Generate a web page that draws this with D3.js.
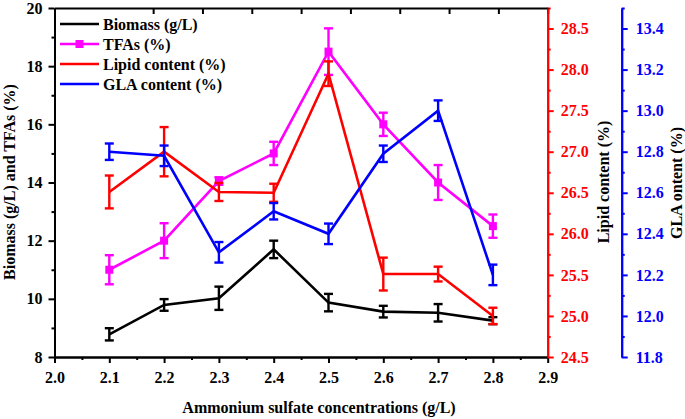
<!DOCTYPE html>
<html><head><meta charset="utf-8">
<script src="https://cdn.jsdelivr.net/npm/d3@7/dist/d3.min.js"></script>
<style>
body{margin:0;background:#fff;}
svg text{font-family:"Liberation Serif","Times New Roman",serif;font-weight:bold;}
</style></head>
<body><svg id="c" width="685" height="419"></svg>
<script>
const categories = [2.1, 2.2, 2.3, 2.4, 2.5, 2.6, 2.7, 2.8];
const biomass    = [8.78, 9.79, 10.02, 11.70, 9.87, 9.56, 9.52, 9.25];
const biomassErr = [0.21, 0.2, 0.4, 0.3, 0.3, 0.2, 0.3, 0.12];
const tfas       = [11.0, 12.0, 14.05, 15.0, 18.5, 16.0, 14.0, 12.5];
const tfasErr    = [0.5, 0.6, 0.13, 0.4, 0.8, 0.4, 0.6, 0.4];
const lipid      = [26.51, 27.0, 26.51, 26.5, 27.95, 25.51, 25.51, 25.0];
const lipidErr   = [0.2, 0.3, 0.11, 0.11, 0.15, 0.2, 0.09, 0.1];
const gla        = [12.8, 12.78, 12.31, 12.51, 12.4, 12.79, 13.0, 12.2];
const glaErr     = [0.04, 0.05, 0.05, 0.04, 0.05, 0.04, 0.05, 0.05];
const xTicks = [2.0, 2.1, 2.2, 2.3, 2.4, 2.5, 2.6, 2.7, 2.8, 2.9];
const leftTicks = [8, 10, 12, 14, 16, 18, 20];
const redTicks = [24.5, 25.0, 25.5, 26.0, 26.5, 27.0, 27.5, 28.0, 28.5];
const blueTicks = [11.8, 12.0, 12.2, 12.4, 12.6, 12.8, 13.0, 13.2, 13.4];

const svg = d3.select("#c");
const L = 54.5, R = 547.7, T = 8, B = 357;
const x = d3.scaleLinear().domain([2.0, 2.9]).range([L, R]);
const yL = d3.scaleLinear().domain([8, 20]).range([B, T]);
const yR = d3.scaleLinear().domain([24.5, 28.75]).range([B, T]);
const yB = d3.scaleLinear().domain([11.8, 13.5]).range([B, T]);
const blueX = 621.7;

function styleAxis(g, color){
  g.select(".domain").attr("stroke", color).attr("stroke-width", 2);
  g.selectAll(".tick line").attr("stroke", color).attr("stroke-width", 2);
  g.selectAll(".tick text").attr("fill", color).attr("font-size", 16);
}
// minor ticks
const xMinor = d3.range(0, 9).map(i => 2.05 + i * 0.1);
svg.append("g").attr("transform", `translate(0,${B})`)
  .call(d3.axisBottom(x).tickValues(xMinor).tickSize(3).tickFormat("").tickSizeOuter(0))
  .call(g => styleAxis(g, "#000"));
svg.append("g").attr("transform", `translate(${L},0)`)
  .call(d3.axisLeft(yL).tickValues([9, 11, 13, 15, 17, 19]).tickSize(3).tickFormat("").tickSizeOuter(0))
  .call(g => styleAxis(g, "#000"));
svg.append("g").attr("transform", `translate(${R},0)`)
  .call(d3.axisRight(yR).tickValues(d3.range(0, 9).map(i => 24.75 + i * 0.5)).tickSize(3).tickFormat("").tickSizeOuter(0))
  .call(g => styleAxis(g, "#f00"));
svg.append("g").attr("transform", `translate(${blueX},0)`)
  .call(d3.axisRight(yB).tickValues(d3.range(0, 9).map(i => 11.9 + i * 0.2)).tickSize(3).tickFormat("").tickSizeOuter(0))
  .call(g => styleAxis(g, "#00f"));

// top axis (mirror, inward ticks)
const topTicks = d3.range(2, 11).map(k => 2.0 + k * 0.09);
svg.append("g").attr("transform", `translate(0,${T})`)
  .call(d3.axisBottom(x).tickValues(topTicks).tickSize(6).tickFormat("").tickSizeOuter(0))
  .call(g => styleAxis(g, "#000"));

// major axes
svg.append("g").attr("transform", `translate(0,${B})`)
  .call(d3.axisBottom(x).tickValues(xTicks).tickSize(6).tickPadding(9).tickFormat(d3.format(".1f")).tickSizeOuter(0))
  .call(g => styleAxis(g, "#000"));
svg.append("g").attr("transform", `translate(${L},0)`)
  .call(d3.axisLeft(yL).tickValues(leftTicks).tickSize(6).tickPadding(6).tickFormat(d3.format("d")).tickSizeOuter(0))
  .call(g => styleAxis(g, "#000"));
svg.append("g").attr("transform", `translate(${R},0)`)
  .call(d3.axisRight(yR).tickValues(redTicks).tickSize(6).tickPadding(7).tickFormat(d3.format(".1f")).tickSizeOuter(0))
  .call(g => styleAxis(g, "#f00"));
svg.append("g").attr("transform", `translate(${blueX},0)`)
  .call(d3.axisRight(yB).tickValues(blueTicks).tickSize(6).tickPadding(8).tickFormat(d3.format(".1f")).tickSizeOuter(0))
  .call(g => styleAxis(g, "#00f"));

// series
const series = [
  {vals: biomass, err: biomassErr, y: yL, color: "#000", marker: false},
  {vals: tfas, err: tfasErr, y: yL, color: "#ff00ff", marker: true},
  {vals: lipid, err: lipidErr, y: yR, color: "#ff0000", marker: false},
  {vals: gla, err: glaErr, y: yB, color: "#0000ff", marker: false}
];
series.forEach(s => {
  const pts = categories.map((c, i) => ({c, v: s.vals[i], e: s.err[i]}));
  const g = svg.append("g");
  g.append("path").datum(pts)
    .attr("d", d3.line().x(d => x(d.c)).y(d => s.y(d.v)))
    .attr("fill", "none").attr("stroke", s.color).attr("stroke-width", 2.6);
  const eb = g.selectAll(".eb").data(pts).enter().append("g");
  eb.append("line").attr("x1", d => x(d.c)).attr("x2", d => x(d.c))
    .attr("y1", d => s.y(d.v + d.e)).attr("y2", d => s.y(d.v - d.e))
    .attr("stroke", s.color).attr("stroke-width", 2.4);
  [1, -1].forEach(sg => {
    eb.append("line").attr("x1", d => x(d.c) - 4.5).attr("x2", d => x(d.c) + 4.5)
      .attr("y1", d => s.y(d.v + sg * d.e)).attr("y2", d => s.y(d.v + sg * d.e))
      .attr("stroke", s.color).attr("stroke-width", 2.4);
  });
  if (s.marker) {
    g.selectAll(".m").data(pts).enter().append("rect")
      .attr("x", d => x(d.c) - 4).attr("y", d => s.y(d.v) - 4)
      .attr("width", 8).attr("height", 8).attr("fill", s.color);
  }
});

// legend
const legendItems = [
  {name: "Biomass (g/L)", color: "#000", marker: false},
  {name: "TFAs (%)", color: "#ff00ff", marker: true},
  {name: "Lipid content (%)", color: "#ff0000", marker: false},
  {name: "GLA content (%)", color: "#0000ff", marker: false}
];
const lg = svg.append("g");
legendItems.forEach((it, i) => {
  const yy = 24 + i * 20;
  lg.append("line").attr("x1", 60).attr("x2", 99).attr("y1", yy).attr("y2", yy)
    .attr("stroke", it.color).attr("stroke-width", 2.6);
  if (it.marker) lg.append("rect").attr("x", 75.5).attr("y", yy - 4).attr("width", 8).attr("height", 8).attr("fill", it.color);
  lg.append("text").attr("x", 103).attr("y", yy + 5.5).attr("font-size", 16).attr("fill", "#000").text(it.name);
});

// axis titles
svg.append("text").attr("x", 319).attr("y", 413).attr("text-anchor", "middle")
  .attr("font-size", 16).text("Ammonium sulfate concentrations (g/L)");
svg.append("text").attr("transform", "translate(15,182) rotate(-90)").attr("text-anchor", "middle")
  .attr("font-size", 16).text("Biomass (g/L) and TFAs (%)");
svg.append("text").attr("transform", "translate(609,182) rotate(-90)").attr("text-anchor", "middle")
  .attr("font-size", 16).text("Lipid content (%)");
svg.append("text").attr("transform", "translate(682,183) rotate(-90)").attr("text-anchor", "middle")
  .attr("font-size", 16).text("GLA ontent (%)");
</script></body></html>
